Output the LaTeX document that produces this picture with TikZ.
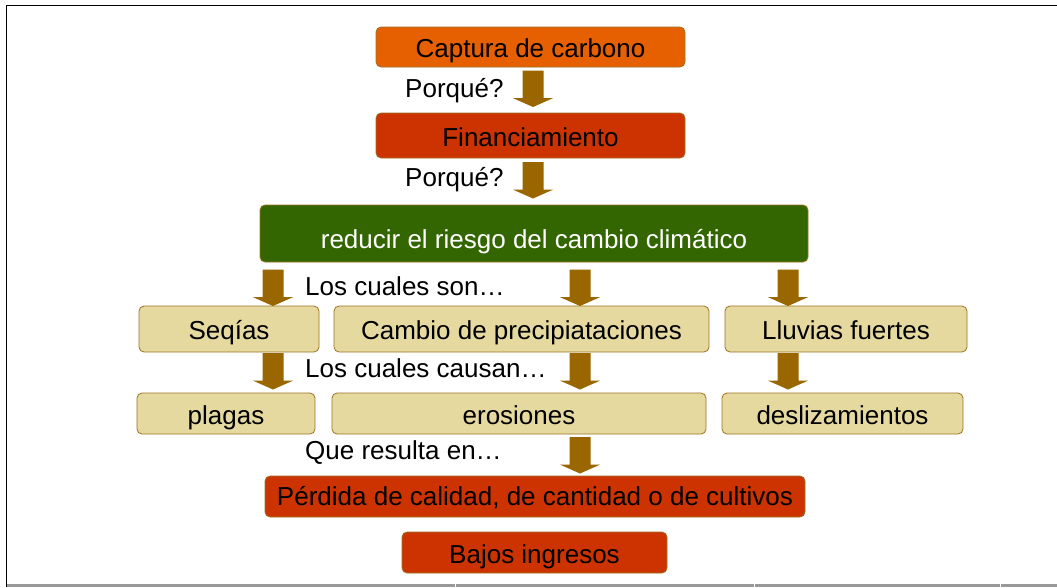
\documentclass[tikz,border=0pt]{standalone}
\usepackage{fontspec}
\setmainfont{Liberation Sans}
\definecolor{orangec}{HTML}{E65F00}
\definecolor{redc}{HTML}{CC3300}
\definecolor{greenc}{HTML}{336600}
\definecolor{beigec}{HTML}{E5D9A0}
\definecolor{edgec}{HTML}{9C7320}
\definecolor{arrowc}{HTML}{996600}
\definecolor{framegray}{HTML}{999999}
\begin{document}
\begin{tikzpicture}[x=1pt,y=-1pt,
  every node/.style={font=\fontsize{26}{30}\selectfont},
  box/.style={draw=edgec, line width=0.8pt, rounded corners=5pt, inner sep=0pt, align=center, text height=21pt, text depth=0pt},
  boxorange/.style={box, fill=orangec},
  boxred/.style={box, fill=redc},
  boxgreen/.style={box, fill=greenc, text=white, text height=29pt},
  boxbeige/.style={box, fill=beigec},
  lbl/.style={anchor=base west, inner sep=0pt},
  barrow/.pic={\fill[arrowc] (-10.5,0) -- (10.5,0) -- (10.5,27.5) -- (20.3,27.5) -- (0,36.5) -- (-20.3,27.5) -- (-10.5,27.5) -- cycle;}
]
\useasboundingbox (0,0) rectangle (1057,587);
\fill[white] (0,0) rectangle (1057,587);

% frame
\draw[line width=1.4pt] (6.7,587) -- (6.7,5.7) -- (1057,5.7);
\foreach \a/\b in {7/454.5, 455.5/753.5, 754.5/999.5, 1000.5/1057}
  \draw[framegray, line width=2.2pt] (\a,585.5) -- (\b,585.5);

% boxes
\node[boxorange, minimum width=309pt, minimum height=40pt] (cap) at (530.5,47) {Captura de carbono};
\node[boxred, minimum width=309pt, minimum height=45pt] (fin) at (530.5,135.5) {Financiamiento};
\node[boxgreen, minimum width=548pt, minimum height=57pt] (red) at (534,233.5) {reducir el riesgo del cambio climático};
\node[boxbeige, minimum width=180pt, minimum height=46pt] (seq) at (229,329) {Seqías};
\node[boxbeige, minimum width=375pt, minimum height=46pt] (cam) at (521.5,329) {Cambio de precipiataciones};
\node[boxbeige, minimum width=242pt, minimum height=46pt] (llu) at (846,329) {Lluvias fuertes};
\node[boxbeige, minimum width=178pt, minimum height=41pt] (pla) at (226,413.5) {plagas};
\node[boxbeige, minimum width=374pt, minimum height=41pt] (ero) at (519,413.5) {erosiones};
\node[boxbeige, minimum width=241pt, minimum height=41pt] (des) at (842.5,413.5) {deslizamientos};
\node[boxred, minimum width=540pt, minimum height=41pt, text height=18pt] (per) at (535,496.5) {Pérdida de calidad, de cantidad o de cultivos};
\node[boxred, minimum width=265pt, minimum height=41pt] (baj) at (534.5,552.5) {Bajos ingresos};

% labels
\node[lbl] (q1) at (405,97) {Porqué?};
\node[lbl] (q2) at (405,186) {Porqué?};
\node[lbl] (son) at (305,295) {Los cuales son…};
\node[lbl] (cau) at (305,377) {Los cuales causan…};
\node[lbl] (res) at (305,459) {Que resulta en…};

% block arrows
\pic at (533,70.5) {barrow};
\pic at (533,162) {barrow};
\foreach \xx in {273,580,788} {
  \pic at (\xx,269.5) {barrow};
  \pic at (\xx,353) {barrow};
}
\pic at (580,437) {barrow};
\end{tikzpicture}
\end{document}
